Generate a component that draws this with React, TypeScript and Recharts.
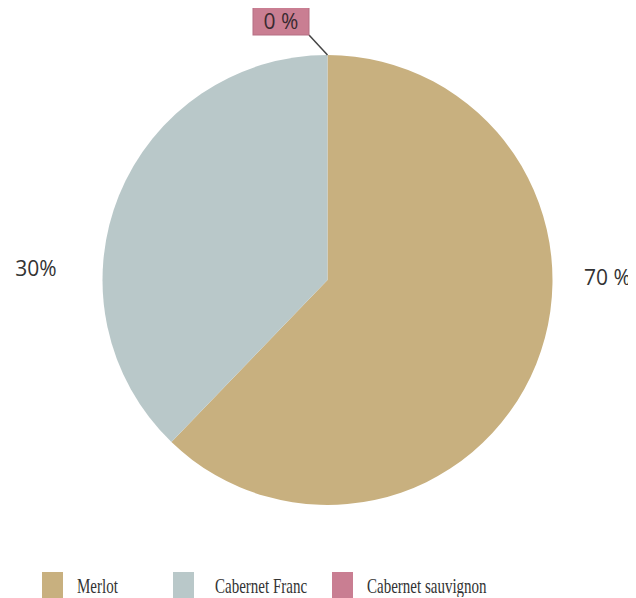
import { PieChart, Pie, Cell, Legend } from 'recharts';

const NAMES = ['Merlot', 'Cabernet Franc', 'Cabernet sauvignon'];
const SHARES = [62.2, 37.8, 0];
const LABELS = ['70 %', '30%', '0 %'];
const COLORS = ['#C8B07F', '#B9C8C9', '#C97E92'];

// legend item left edges (chart coords)
const LEGEND_X = [34, 165, 324];

const data = NAMES.map((name, i) => ({ name, value: SHARES[i] }));

const labelFont = { fontFamily: '"Open Sans", sans-serif', fontSize: 21, fill: '#333' };

const renderLabel = (props: any) => {
  const { cx, cy, outerRadius, midAngle, index } = props;
  const rad = (-midAngle * Math.PI) / 180;
  const c = Math.cos(rad);
  const s = Math.sin(rad);
  if (Math.abs(c) < 0.1 && s < 0) {
    // top slice: boxed label with leader line
    const bx = cx - 46.5;
    const by = cy - 259;
    return (
      <g key={`l-${index}`}>
        <line x1={cx} y1={cy - outerRadius} x2={bx + 28} y2={by + 14} stroke="#444" strokeWidth={1.5} />
        <rect x={bx - 28} y={by - 14} width={56} height={28} fill={COLORS[index]} stroke="#b56f83" strokeWidth={1} />
        <text x={bx} y={by} textAnchor="middle" dominantBaseline="central" {...labelFont} fill="#3a2a30">
          {LABELS[index]}
        </text>
      </g>
    );
  }
  const x = c > 0 ? cx + outerRadius + 55 : cx - outerRadius - 66.5;
  const y = c > 0 ? cy - 3 : cy - 12;
  return (
    <text key={`l-${index}`} x={x} y={y} textAnchor="middle" dominantBaseline="central" {...labelFont}>
      {LABELS[index]}
    </text>
  );
};

const renderLegend = () => (
  <div style={{ position: 'relative', width: 628, height: 40 }}>
    {NAMES.map((name, i) => (
      <div key={name} style={{ position: 'absolute', left: LEGEND_X[i], top: 0, display: 'flex' }}>
        <div style={{ width: 21, height: 30, background: COLORS[i] }} />
        <span
          style={{
            marginLeft: i === 1 ? 21 : 14,
            fontFamily: '"Liberation Serif", serif',
            fontSize: 15,
            color: '#333',
            display: 'inline-block',
            transform: 'scaleY(1.4)',
            transformOrigin: 'top left',
            lineHeight: '15px',
            marginTop: 4,
          }}
        >
          {name}
        </span>
      </div>
    ))}
  </div>
);

export default function App() {
  return (
    <PieChart width={628} height={590} margin={{ top: 0, right: 0, bottom: 0, left: 0 }}>
      <Pie
        data={data}
        dataKey="value"
        nameKey="name"
        cx={319.5}
        cy={272}
        outerRadius={225}
        startAngle={90}
        endAngle={-270}
        stroke="none"
        label={renderLabel}
        labelLine={false}
        isAnimationActive={false}
      >
        {data.map((d, i) => (
          <Cell key={d.name} fill={COLORS[i]} />
        ))}
      </Pie>
      <Legend content={renderLegend} wrapperStyle={{ position: 'absolute', left: 0, top: 564, width: 628 }} />
    </PieChart>
  );
}
